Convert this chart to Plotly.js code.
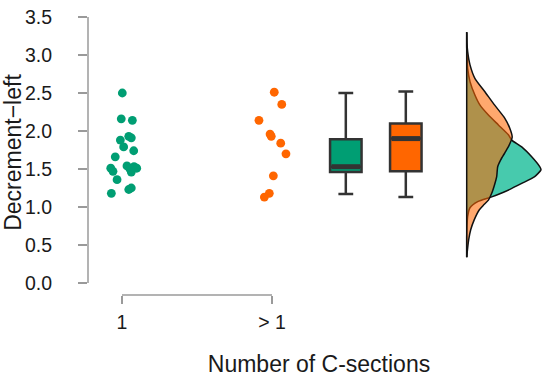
<!DOCTYPE html>
<html><head><meta charset="utf-8">
<script src="https://cdn.plot.ly/plotly-3.0.1.min.js"></script>
<style>html,body{margin:0;padding:0;background:#fff}#chart{width:550px;height:377px}</style>
</head><body><div id="chart"></div>
<script>
// ---- data ----
const categories = ['1', '> 1'];
const catPos = [1, 2];

const group1Values = [2.50, 2.16, 2.14, 1.88, 1.93, 1.91, 1.79, 1.74, 1.66, 1.51, 1.47, 1.54, 1.53, 1.46, 1.51, 1.36, 1.18, 1.23, 1.25, 1.50];
const group1Jitter = [0.002, -0.005, 0.069, -0.011, 0.045, 0.062, 0.011, 0.078, -0.045, -0.075, -0.060, 0.033, 0.080, 0.062, 0.098, -0.033, -0.071, 0.045, 0.062, 0.053];

const group2Values = [2.51, 2.35, 2.14, 1.96, 1.93, 1.84, 1.70, 1.41, 1.18, 1.13];
const group2Jitter = [0.015, 0.065, -0.087, -0.013, -0.005, 0.058, 0.093, 0.009, -0.018, -0.051];

const boxLower  = [1.17, 1.13];
const boxQ1     = [1.46, 1.47];
const boxMedian = [1.53, 1.90];
const boxQ3     = [1.89, 2.10];
const boxUpper  = [2.50, 2.52];

const densityY1 = [3.30, 3.10, 3.00, 2.82, 2.65, 2.47, 2.34, 2.21, 2.08, 1.95, 1.88, 1.79, 1.66, 1.53, 1.49, 1.40, 1.31, 1.20, 1.13, 1.07, 0.99, 0.88, 0.75, 0.60, 0.34];
const density1  = [0, 0, 0.006, 0.02, 0.066, 0.166, 0.266, 0.434, 0.634, 0.834, 0.90, 1.10, 1.30, 1.46, 1.486, 1.36, 1.10, 0.76, 0.486, 0.22, 0.066, 0.02, 0.006, 0, 0];

const densityY2 = [3.30, 3.15, 3.04, 2.87, 2.69, 2.52, 2.34, 2.17, 2.04, 1.92, 1.80, 1.71, 1.62, 1.53, 1.40, 1.30, 1.18, 1.09, 1.02, 0.96, 0.83, 0.70, 0.57, 0.43, 0.34];
const density2  = [0, 0.006, 0.02, 0.066, 0.166, 0.36, 0.56, 0.76, 0.86, 0.91, 0.84, 0.76, 0.68, 0.62, 0.60, 0.56, 0.50, 0.434, 0.33, 0.25, 0.15, 0.08, 0.04, 0.014, 0];

// ---- styles / layout constants ----
const GREEN = '#009E73';
const ORANGE = '#FF6600';
const AXIS = '#9a9a9a';
const FONT = 'Liberation Sans, Arial, Helvetica, sans-serif';
const boxPos = [2.492, 2.892];
const boxWidth = 0.21;

const traces = [];
// jittered points
traces.push({
  type: 'scatter', mode: 'markers',
  x: group1Values.map((v, i) => catPos[0] + group1Jitter[i]), y: group1Values,
  marker: {color: GREEN, size: 8.8}, hoverinfo: 'y', showlegend: false
});
traces.push({
  type: 'scatter', mode: 'markers',
  x: group2Values.map((v, i) => catPos[1] + group2Jitter[i]), y: group2Values,
  marker: {color: ORANGE, size: 8.8}, hoverinfo: 'y', showlegend: false
});
// boxes
[GREEN, ORANGE].forEach((c, i) => {
  traces.push({
    type: 'box', x: [boxPos[i]],
    lowerfence: [boxLower[i]], q1: [boxQ1[i]], median: [boxMedian[i]], q3: [boxQ3[i]], upperfence: [boxUpper[i]],
    width: boxWidth, whiskerwidth: 0.47, fillcolor: c,
    line: {color: '#333333', width: 2.5}, boxpoints: false, showlegend: false
  });
  traces.push({
    type: 'scatter', mode: 'lines',
    x: [boxPos[i] - boxWidth / 2 + 0.01, boxPos[i] + boxWidth / 2 - 0.01], y: [boxMedian[i], boxMedian[i]],
    line: {color: '#333333', width: 5}, hoverinfo: 'skip', showlegend: false
  });
});
// densities (half violins)
traces.push({
  type: 'scatter', mode: 'lines', xaxis: 'x2',
  x: density1, y: densityY1, fill: 'tozerox', fillcolor: 'rgba(0,182,142,0.72)',
  line: {color: '#111', width: 1.5, shape: 'spline', smoothing: 0.6}, hoverinfo: 'skip', showlegend: false
});
traces.push({
  type: 'scatter', mode: 'lines', xaxis: 'x2',
  x: density2, y: densityY2, fill: 'tozerox', fillcolor: 'rgba(255,102,0,0.57)',
  line: {color: '#111', width: 1.5, shape: 'spline', smoothing: 0.6}, hoverinfo: 'skip', showlegend: false
});
const allDensY = densityY1.concat(densityY2);
traces.push({
  type: 'scatter', mode: 'lines', xaxis: 'x2',
  x: [0, 0], y: [Math.min(...allDensY), Math.max(...allDensY)],
  line: {color: '#111', width: 1.5}, hoverinfo: 'skip', showlegend: false
});

const layout = {
  width: 550, height: 377,
  margin: {l: 88, r: 0, t: 10, b: 82},
  paper_bgcolor: '#fff', plot_bgcolor: '#fff',
  font: {family: FONT, color: '#222'},
  showlegend: false,
  xaxis: {
    range: [0.7733, 3.8533], showgrid: false, zeroline: false, showline: false,
    tickmode: 'array', tickvals: catPos, ticktext: categories,
    ticks: 'outside', ticklen: 8, tickwidth: 1.5, tickcolor: AXIS,
    tickfont: {size: 19.5, family: FONT, color: '#1a1a1a'}, ticklabelstandoff: 2,
    title: {text: 'Number of C-sections', font: {size: 23, family: FONT, color: '#1a1a1a'}, standoff: 27}
  },
  xaxis2: {
    overlaying: 'x', range: [-7.574, 1.666], visible: false
  },
  yaxis: {
    range: [-0.158, 3.592], showgrid: false, zeroline: false, showline: false,
    tickmode: 'array', tickvals: [0, 0.5, 1, 1.5, 2, 2.5, 3, 3.5], tickformat: '.1f',
    ticks: 'outside', ticklen: 9, tickwidth: 1.5, tickcolor: AXIS,
    tickfont: {size: 19.5, family: FONT, color: '#1a1a1a'}, ticklabelstandoff: 22,
    title: {text: 'Decrement\u2212left', font: {size: 23, family: FONT, color: '#1a1a1a'}, standoff: 3}
  },
  shapes: [
    {type: 'line', xref: 'paper', yref: 'y', x0: 0, x1: 0, y0: 0, y1: 3.5, line: {color: AXIS, width: 1.5}},
    {type: 'line', xref: 'x', yref: 'paper', x0: catPos[0], x1: catPos[1], y0: 0, y1: 0, line: {color: AXIS, width: 1.5}}
  ]
};

Plotly.newPlot('chart', traces, layout, {displayModeBar: false, staticPlot: true});
</script>
</body></html>
